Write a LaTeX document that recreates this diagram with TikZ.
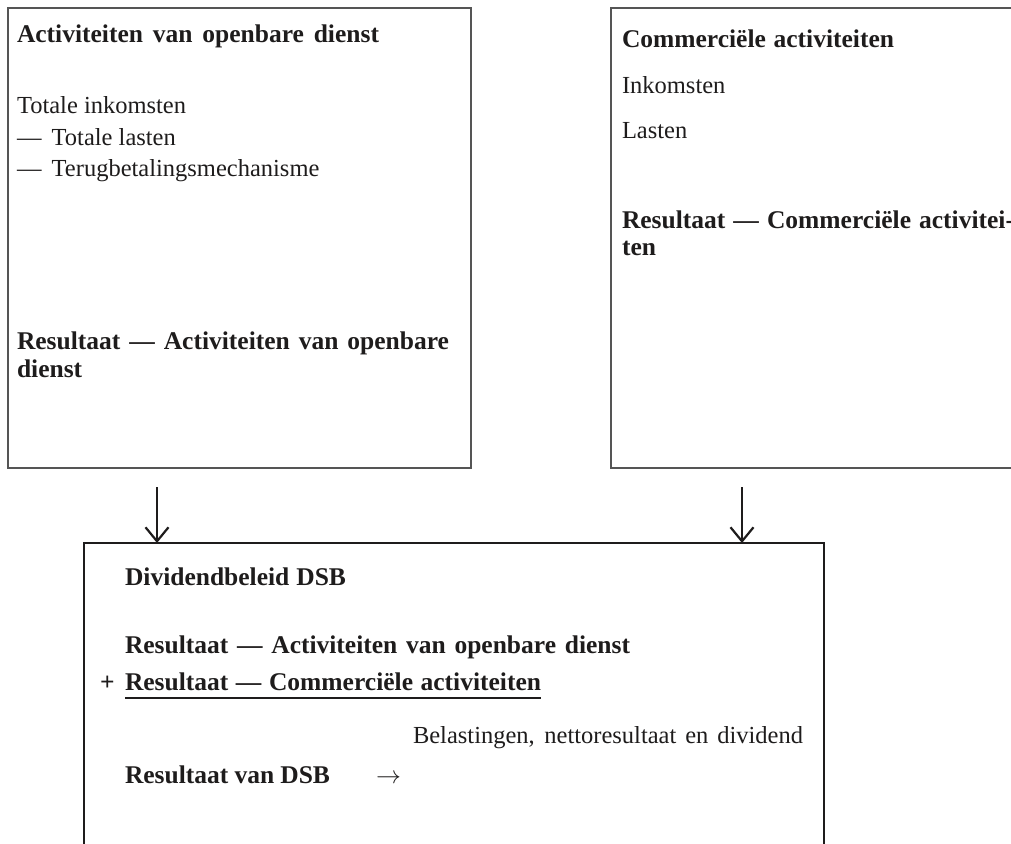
\documentclass[tikz,border=0pt]{standalone}
\usepackage{fontspec}
\setmainfont{Liberation Serif}
\usetikzlibrary{arrows.meta}
\definecolor{ink}{HTML}{1E1C1C}
\definecolor{frame}{HTML}{555555}
\begin{document}
\begin{tikzpicture}[x=1pt,y=-1pt,
  every node/.style={font=\fontsize{24.5}{30}\selectfont, text=ink},
  txt/.style={anchor=base west, inner sep=0pt, outer sep=0pt},
  bx/.style={txt, font=\fontsize{25.5}{30}\selectfont\bfseries},
  topbox/.style={draw=frame, line width=1.3pt, anchor=north west, inner sep=0pt, outer sep=0pt},
  mainbox/.style={draw=ink, line width=2pt, anchor=north west, inner sep=0pt, outer sep=0pt},
  arr/.style={draw=ink, line width=2.2pt, -{Straight Barb[length=14pt,width=23pt]}}]
\useasboundingbox (0,0) rectangle (1011,843);
\clip (0,0) rectangle (1011,843);
% boxes
\node[topbox, minimum width=463pt, minimum height=460pt] (pub) at (8,8) {};
\node[topbox, minimum width=420pt, minimum height=460pt] (com) at (611,8) {};
\node[mainbox, minimum width=740pt, minimum height=340pt] (div) at (84,543) {};
% left box text
\node[bx] (p1) at (17,42) {\makebox[362pt][s]{Activiteiten van openbare dienst}};
\node[txt] (p2) at (17,113) {Totale inkomsten};
\node[txt] (p3) at (17,145) {— \,Totale lasten};
\node[txt] (p4) at (17,176) {— \,Terugbetalingsmechanisme};
\node[bx] (p5) at (17,349) {\makebox[432pt][s]{Resultaat — Activiteiten van openbare}};
\node[bx] (p6) at (17,377) {dienst};
% right box text
\node[bx] (c1) at (622,48) {\makebox[272pt][s]{Commerciële activiteiten}};
\node[txt] (c2) at (622,93) {Inkomsten};
\node[txt] (c3) at (622,138) {Lasten};
\node[bx] (c4) at (622,228) {\makebox[392pt][s]{Resultaat — Commerciële activitei-}};
\node[bx] (c5) at (622,255) {ten};
% bottom box text
\node[bx] (d1) at (125,585) {\makebox[221pt][s]{Dividendbeleid DSB}};
\node[bx] (d2) at (125,653) {\makebox[505pt][s]{Resultaat — Activiteiten van openbare dienst}};
\node[bx] (plus) at (100,690) {+};
\node[bx] (d3) at (125,690) {\makebox[416pt][s]{Resultaat — Commerciële activiteiten}};
\draw[draw=ink, line width=1.5pt] ([yshift=-8pt]d3.base west) -- ([yshift=-8pt]d3.base east);
\node[txt] (d4) at (413,743) {\makebox[390pt][s]{Belastingen, nettoresultaat en dividend}};
\node[bx] (d5) at (125,783) {\makebox[205pt][s]{Resultaat van DSB}};
\node[txt] (d6) at (376,783) {$\rightarrow$};
% connectors
\coordinate (a1) at (157,0);
\coordinate (a2) at (742,0);
\draw[arr, shorten <=19pt] (a1 |- pub.south) -- (a1 |- div.north);
\draw[arr, shorten <=19pt] (a2 |- com.south) -- (a2 |- div.north);
\end{tikzpicture}
\end{document}
